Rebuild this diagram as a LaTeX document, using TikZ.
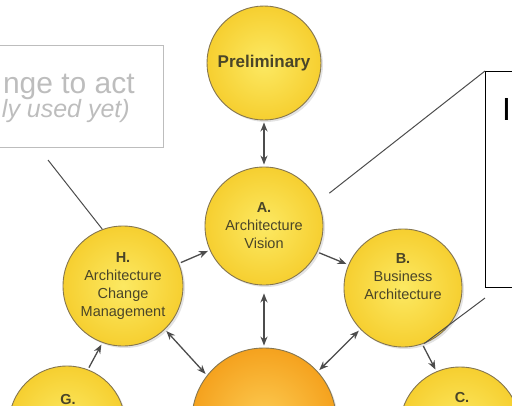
\documentclass[tikz,border=0pt]{standalone}
\usepackage{fontspec}
\setmainfont{Liberation Sans}
\usetikzlibrary{arrows.meta,shadows}
\definecolor{phase}{HTML}{F6CF30}
\definecolor{phaselt}{HTML}{FCE963}
\definecolor{core}{HTML}{F5A21E}
\definecolor{corelt}{HTML}{FCCB52}
\definecolor{rim}{HTML}{857650}
\definecolor{ink}{HTML}{4A4528}
\definecolor{note}{HTML}{BDBDBD}

\begin{document}
\begin{tikzpicture}[x=1pt,y=-1pt,
	phase/.style={circle,draw=rim,line width=0.9pt,inner color=phaselt,outer color=phase,
		drop shadow={shadow xshift=2pt,shadow yshift=-2pt,opacity=0.22},
		align=center,text=ink,inner sep=0pt,font=\fontsize{14.5}{18}\selectfont},
	link/.style={draw=black!70,line width=1.3pt,shorten <=2pt,shorten >=2pt},
	arr/.style={link,-{Stealth[length=9pt,width=7pt]}},
	darr/.style={link,{Stealth[length=9pt,width=7pt]}-{Stealth[length=9pt,width=7pt]}},
	callout/.style={draw=black!70,line width=1pt}]
	\useasboundingbox (0,0) rectangle (512,405);
	% phases of the cycle
	\node[phase,minimum size=114pt,font=\fontsize{17}{20}\selectfont\bfseries] (P) at (264,63) {Preliminary};
	\node[phase,minimum size=118pt] (A) at (264,226) {\textbf{A.}\\Architecture\\Vision};
	\node[phase,minimum size=120pt] (H) at (123,286) {\textbf{H.}\\Architecture\\Change\\Management};
	\node[phase,minimum size=118pt] (B) at (403,288) {\textbf{B.}\\Business\\Architecture\\[4pt]};
	\node[phase,minimum size=116pt] (G) at (67,424) {};
	\node[phase,minimum size=120pt] (C) at (460,427) {};
	\node[phase,minimum size=144pt,inner color=corelt,outer color=core] (X) at (264,420) {};
	\node[text=ink,font=\fontsize{14.5}{18}\selectfont\bfseries,anchor=base,inner sep=0pt] (Gt) at (68,404) {G.};
	\node[text=ink,font=\fontsize{14.5}{18}\selectfont\bfseries,anchor=base,inner sep=0pt] (Ct) at (462,402) {C.};
	% arrows
	\draw[darr] (P) -- (A);
	\draw[arr] (H.22) -- (A.204);
	\draw[arr] (A.334) -- (B.157);
	\draw[darr,shorten <=8pt] (A) -- (X);
	\draw[darr] (H.314) -- (X.142);
	\draw[darr] (B.224) -- (X.42);
	\draw[arr] (G.69) -- (H.250);
	\draw[arr] (B.289) -- (C.113);
	% note boxes
	\node[draw=note,line width=1.3pt,anchor=north east,minimum width=230pt,minimum height=102pt] (todo) at (164,45) {};
	\node[text=note,font=\fontsize{30}{32}\selectfont,anchor=base east,inner sep=0pt] (todo1) at (135,93) {nge to act};
	\node[text=note,font=\fontsize{25}{27}\selectfont\itshape,anchor=base east,inner sep=0pt] (todo2) at (130,117) {ly used yet)};
	\node[draw,line width=1.3pt,anchor=north west,minimum width=80pt,minimum height=216pt] (info) at (485,71) {};
	\node[font=\fontsize{32}{34}\selectfont,anchor=base west,inner sep=0pt] (info1) at (502,120) {I};
	% callout lines
	\coordinate (n1) at (48,160);
	\coordinate (n2) at (485,298);
	\draw[callout] (n1) -- (H.110);
	\draw[callout,shorten >=14pt] (info.north west) -- (A.24);
	\draw[callout] (n2) -- (B.291);
\end{tikzpicture}
\end{document}
